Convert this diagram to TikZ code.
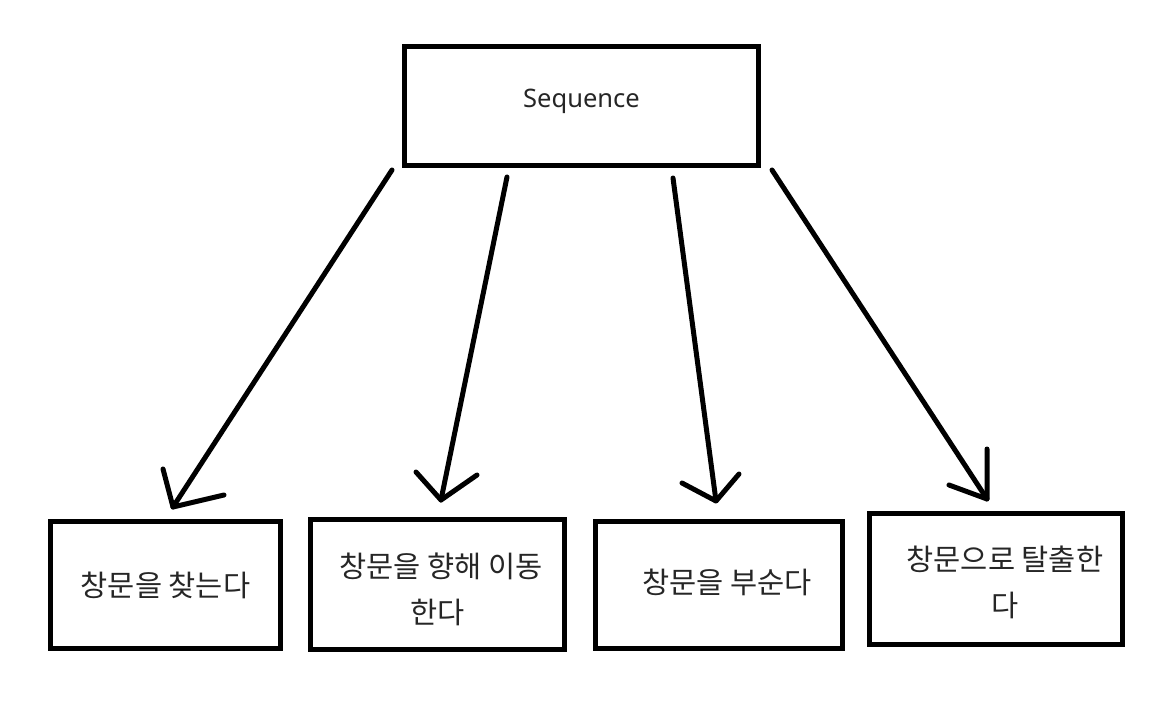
\documentclass[tikz,border=0pt]{standalone}
\usepackage{fontspec}
\setmainfont{Noto Sans}
\newfontfamily\kr{Noto Sans CJK KR}
\newcommand{\shiftv}[2]{\raisebox{#1}[\height][\depth]{#2}}
\newcommand{\twolines}[3]{\shiftv{#1}{\begin{tabular}{@{}c@{}}#2\\#3\end{tabular}}}
\tikzset{
  box/.style={draw=black, line width=5pt, rectangle, inner sep=0pt, align=center,
              text=black!85, font=\kr\fontsize{29.5}{46}\selectfont},
  conn/.style={draw=black, line width=5pt, line cap=round, line join=round}
}
\begin{document}
\begin{tikzpicture}[x=1pt, y=-1pt]
\useasboundingbox[fill=white] (0,0) rectangle (1152,720);
% top box
\node[box, minimum width=354pt, minimum height=119pt, font=\fontsize{25.5}{30}\selectfont]
  (seq) at (581.5,106) {\shiftv{5pt}{Sequence}};
% bottom boxes
\node[box, minimum width=230pt, minimum height=127pt] (b1) at (165.5,585) {창문을 찾는다};
\node[box, minimum width=254pt, minimum height=130pt] (b2) at (437.5,584.5)
  {\twolines{-7pt}{\hspace*{7pt}창문을 향해 이동}{한다}};
\node[box, minimum width=247pt, minimum height=127pt] (b3) at (719,585)
  {\shiftv{3pt}{\hspace*{16pt}창문을 부순다}};
\node[box, minimum width=253pt, minimum height=131pt] (b4) at (996,579)
  {\twolines{-5pt}{\hspace*{18pt}창문으로 탈출한}{\hspace*{18pt}다}};
% arrow coordinates
\coordinate (s1) at (392,170);  \coordinate (t1) at (173,507);
\coordinate (h1a) at (163,469); \coordinate (h1b) at (224,495);
\coordinate (s2) at (507,177);  \coordinate (t2) at (441,500);
\coordinate (h2a) at (416,472); \coordinate (h2b) at (477,475);
\coordinate (s3) at (673,178);  \coordinate (t3) at (716,501);
\coordinate (h3a) at (682,483); \coordinate (h3b) at (739,474);
\coordinate (s4) at (772,170);  \coordinate (t4) at (987,499);
\coordinate (h4a) at (987,449); \coordinate (h4b) at (949,485);
% arrows
\draw[conn] (s1) -- (t1); \draw[conn] (h1a) -- (t1) -- (h1b);
\draw[conn] (s2) -- (t2); \draw[conn] (h2a) -- (t2) -- (h2b);
\draw[conn] (s3) -- (t3); \draw[conn] (h3a) -- (t3) -- (h3b);
\draw[conn] (s4) -- (t4); \draw[conn] (h4a) -- (t4) -- (h4b);
\end{tikzpicture}
\end{document}
